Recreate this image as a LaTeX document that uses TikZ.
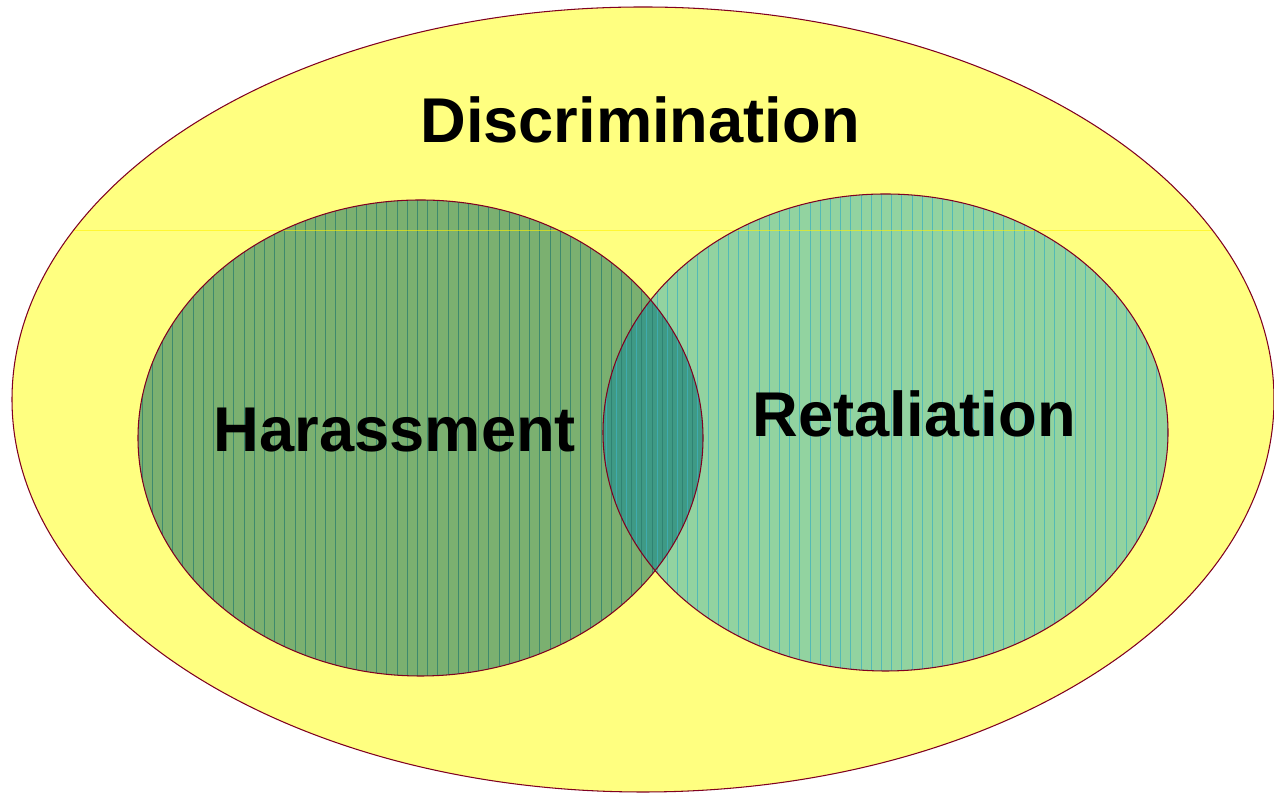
\documentclass[tikz,border=0pt]{standalone}
\usepackage{fontspec}
\setmainfont{Liberation Sans}
\usepackage{tikz}
\usetikzlibrary{positioning}
\usepackage{xcolor}

\definecolor{discyellow}{HTML}{FFFF80}
\definecolor{harfill}{HTML}{7BB070}
\definecolor{retfill}{HTML}{92D3A0}
\definecolor{bothfill}{HTML}{3F9A85}
\definecolor{harline}{HTML}{2A7C6C}
\definecolor{retline}{HTML}{3FB2BE}
\definecolor{rim}{HTML}{800020}

\tikzset{
    settext/.style={font=\fontsize{36}{40}\selectfont\bfseries, inner sep=0pt, anchor=base},
    rimline/.style={draw=rim, line width=0.6pt},
    stripe/.style={line width=0.45pt, opacity=0.75}
}

\begin{document}
\begin{tikzpicture}[x=0.02cm, y=0.02cm]
        %coordinates
        \coordinate (orig) at (0,0);
        \coordinate (top)  at (1274,793);
        \useasboundingbox (orig) rectangle (top);

        \coordinate (D) at (643,393.5);
        \coordinate (H) at (420.5,355);
        \coordinate (R) at (885.5,360.5);

        %discrimination
        \fill[discyellow] (D) ellipse [x radius=631, y radius=392.5];

        %harassment and retaliation
        \fill[harfill] (H) ellipse [x radius=282.5, y radius=238];
        \fill[retfill] (R) ellipse [x radius=282.5, y radius=238.5];
        \begin{scope}
            \clip (H) ellipse [x radius=282.5, y radius=238];
            \fill[bothfill] (R) ellipse [x radius=282.5, y radius=238.5];
        \end{scope}

        %stripes
        \begin{scope}
            \clip (H) ellipse [x radius=282.5, y radius=238];
            \foreach \x in {142,152.2,...,704}
                \draw[stripe, harline] (\x,100) -- (\x,610);
        \end{scope}
        \begin{scope}
            \clip (R) ellipse [x radius=282.5, y radius=238.5];
            \foreach \x in {606,616.2,...,1170}
                \draw[stripe, retline] (\x,100) -- (\x,610);
        \end{scope}

        %faint line across
        \begin{scope}
            \clip (D) ellipse [x radius=631, y radius=392.5];
            \draw[yellow, line width=0.6pt, opacity=0.6] (0,562.3) -- (1274,562.3);
        \end{scope}

        %outlines
        \draw[rimline] (D) ellipse [x radius=631, y radius=392.5];
        \draw[rimline] (H) ellipse [x radius=282.5, y radius=238];
        \draw[rimline] (R) ellipse [x radius=282.5, y radius=238.5];

        %nodes
        \node[settext] (disc) at (640,650) {Discrimination};
        \node[settext] (har)  at (395,341) {Harassment};
        \node[settext] (ret)  at (914,356) {Retaliation};
\end{tikzpicture}
\end{document}
